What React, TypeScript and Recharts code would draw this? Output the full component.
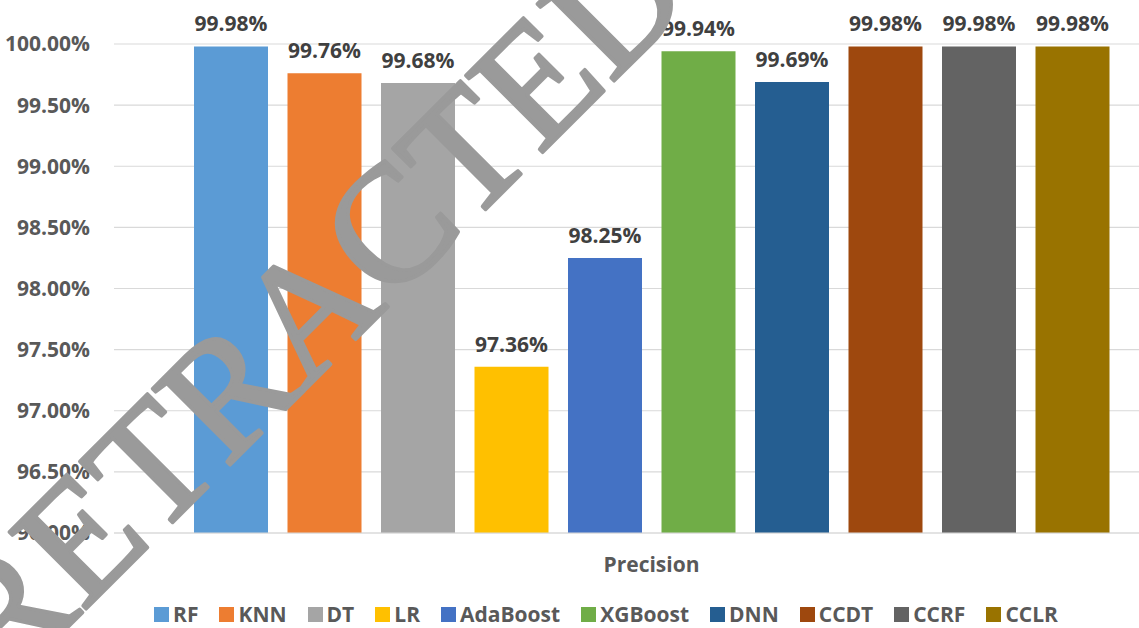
import React from "react";
import { BarChart, Bar, XAxis, YAxis, CartesianGrid, LabelList, Legend } from "recharts";

// Precision of each model, one grouped category
const categories = ["Precision"];
const modelNames = ["RF", "KNN", "DT", "LR", "AdaBoost", "XGBoost", "DNN", "CCDT", "CCRF", "CCLR"];
const precisionValues = [99.98, 99.76, 99.68, 97.36, 98.25, 99.94, 99.69, 99.98, 99.98, 99.98];
const modelColors = [
  "#5B9BD5", "#ED7D31", "#A5A5A5", "#FFC000", "#4472C4",
  "#70AD47", "#255E91", "#9E480E", "#636363", "#997300",
];
const yTicks = [96, 96.5, 97, 97.5, 98, 98.5, 99, 99.5, 100];

const data = categories.map((c) => {
  const row: Record<string, string | number> = { category: c };
  modelNames.forEach((m, i) => {
    row[m] = precisionValues[i];
  });
  return row;
});

const FONT = "'Open Sans', 'DejaVu Sans', sans-serif";
const pct = (v: number) => `${Number(v).toFixed(2)}%`;

const LegendRow = () => (
  <div
    style={{
      display: "flex",
      justifyContent: "center",
      alignItems: "center",
      height: 24,
      fontFamily: FONT,
      fontWeight: 700,
      fontSize: 21,
      color: "#595959",
      whiteSpace: "nowrap",
    }}
  >
    {modelNames.map((m, i) => (
      <span
        key={m}
        style={{
          display: "flex",
          alignItems: "center",
          marginRight: i < modelNames.length - 1 ? 21 : 0,
        }}
      >
        <span
          style={{
            display: "inline-block",
            width: 15,
            height: 15,
            background: modelColors[i],
            marginRight: 4,
          }}
        />
        {m}
      </span>
    ))}
  </div>
);

export default function App() {
  return (
    <div
      style={{
        position: "absolute",
        left: 0,
        top: 0,
        width: 1139,
        height: 628,
        overflow: "hidden",
        background: "#ffffff",
      }}
    >
      <BarChart
        width={1189}
        height={628}
        data={data}
        margin={{ top: 44, right: 0, bottom: 0, left: 0 }}
        barSize={74}
        barGap={19.5}
      >
        <CartesianGrid vertical={false} stroke="#d9d9d9" strokeWidth={1.2} />
        <XAxis
          dataKey="category"
          height={71}
          axisLine={{ stroke: "#d9d9d9", strokeWidth: 1.2 }}
          tickLine={false}
          tickSize={0}
          tickMargin={24}
          tick={{ fontFamily: FONT, fontSize: 21, fontWeight: 700, fill: "#595959" }}
        />
        <YAxis
          type="number"
          domain={[96, 100]}
          ticks={yTicks}
          width={114}
          axisLine={false}
          tickLine={false}
          tickSize={0}
          tickMargin={24}
          tickFormatter={pct}
          tick={{ fontFamily: FONT, fontSize: 21, fontWeight: 700, fill: "#595959" }}
        />
        <Legend
          verticalAlign="bottom"
          content={() => <LegendRow />}
          wrapperStyle={{ left: 0, width: 1212, height: 24, top: 602 }}
        />
        {modelNames.map((m, i) => (
          <Bar key={m} dataKey={m} fill={modelColors[i]} isAnimationActive={false}>
            <LabelList
              dataKey={m}
              position="top"
              offset={15}
              formatter={pct}
              style={{ fontFamily: FONT, fontSize: 21, fontWeight: 700, fill: "#404040" }}
            />
          </Bar>
        ))}
      </BarChart>
      <svg
        width={1139}
        height={628}
        style={{ position: "absolute", left: 0, top: 0, pointerEvents: "none" }}
      >
        <text
          x={350}
          y={345}
          transform="rotate(-45 350 345)"
          textAnchor="middle"
          fontFamily="'Liberation Serif', 'DejaVu Serif', serif"
          fontSize={166}
          fill="#9a9a9a"
          stroke="#9a9a9a"
          strokeWidth={3.5}
          strokeLinejoin="round"
        >
          RETRACTED
        </text>
      </svg>
    </div>
  );
}
